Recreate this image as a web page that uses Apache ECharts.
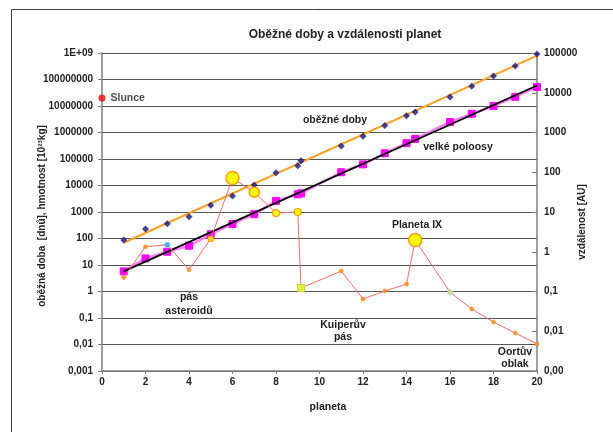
<!DOCTYPE html>
<html>
<head>
<meta charset="utf-8">
<script src="https://cdn.jsdelivr.net/npm/echarts@6/dist/echarts.min.js"></script>
<style>
html,body{margin:0;padding:0;background:#fff;}
#c{width:613px;height:432px;}
</style>
</head>
<body>
<div id="c"></div>
<script>
// ---- data ----
const planetX      = [1, 2, 3, 4, 5, 6, 7, 8, 9, 9.15, 11, 12, 13, 14, 14.4, 16, 17, 18, 19, 20];
const periodDays   = [87, 230, 360, 660, 1800, 4000, 10500, 30000, 56000, 85000, 310000, 720000, 1850000, 4300000, 5900000, 22000000, 56000000, 135000000, 320000000, 910000000];
const semiMajorAU  = [0.32, 0.68, 1.0, 1.42, 2.75, 5.0, 8.8, 19, 28, 29.5, 100, 158, 300, 540, 690, 1840, 2950, 4650, 7900, 14000];
const massE23kg    = [3.4, 49, 58, 6.6, 98, 19000, 5600, 910, 1000, 1.35, 5.9, 0.52, 1.05, 1.9, 87, 0.95, 0.22, 0.07, 0.027, 0.0105];
const periodTrendX = [1, 20];
const periodTrendY = [69, 790000000];
const axisTrendX   = [1, 20];
const axisTrendY   = [0.32, 15200];
const sunX         = [0];
const sunMass      = [20000000];
const xTicks       = [0, 2, 4, 6, 8, 10, 12, 14, 16, 18, 20];
const leftTickLabels  = ['0,001', '0,01', '0,1', '1', '10', '100', '1000', '10000', '100000', '1000000', '10000000', '100000000', '1E+09'];
const rightTickLabels = ['0,00', '0,01', '0,1', '1', '10', '100', '1000', '10000', '100000'];

const FONT = '"Liberation Sans", Arial, sans-serif';
const TXT = '#222';

function pairs(xs, ys) { return xs.map((x, i) => [x, ys[i]]); }

// special mass markers (by planet index)
const big = {symbol: 'circle', symbolSize: 13, itemStyle: {color: '#ffff00', borderColor: '#ff9a00', borderWidth: 1.5}};
const massSpecial = {
  2:  {symbolSize: 5, itemStyle: {color: '#4aa8ff', borderColor: '#4aa8ff'}},
  4:  {symbol: 'rect', symbolSize: 5, itemStyle: {color: '#ffd400', borderColor: '#ff9a00', borderWidth: 1}},
  5:  big,
  6:  {symbol: 'circle', symbolSize: 10, itemStyle: {color: '#ffff00', borderColor: '#ff9a00', borderWidth: 1.5}},
  7:  {symbolSize: 7, itemStyle: {color: '#ffff00', borderColor: '#ff9a00', borderWidth: 1.2}},
  8:  {symbolSize: 7, itemStyle: {color: '#ffff00', borderColor: '#ff9a00', borderWidth: 1.2}},
  9:  {symbol: 'rect', symbolSize: 7, itemStyle: {color: '#e4ef40', borderColor: '#c8d830', borderWidth: 1}},
  14: big,
  15: {symbolSize: 5, itemStyle: {color: '#c8d898', borderColor: '#b8c880'}}
};
const massData = planetX.map((x, i) => Object.assign({value: [x, massE23kg[i]]}, massSpecial[i] || {}));

function expIdx(v) { return Math.round(Math.log10(v)); }

const chart = echarts.init(document.getElementById('c'), null, {renderer: 'canvas'});
chart.setOption({
  backgroundColor: '#fff',
  animation: false,
  grid: {left: 102, top: 53, width: 435, height: 318, containLabel: false},
  xAxis: {
    type: 'value', min: 0, max: 20, interval: 2,
    axisLine: {show: true, lineStyle: {color: '#808080', width: 1.5}},
    axisTick: {show: true, length: 3, lineStyle: {color: '#808080'}},
    splitLine: {show: false},
    axisLabel: {margin: 6, color: TXT, fontFamily: FONT, fontSize: 10, fontWeight: 'bold',
      formatter: v => (xTicks.indexOf(v) >= 0 ? String(v) : '')}
  },
  yAxis: [{
    type: 'log', logBase: 10, min: 0.001, max: 1e9, interval: 1, splitNumber: 12,
    axisLine: {show: true, lineStyle: {color: '#808080', width: 1.5}},
    axisTick: {show: true, length: 4, lineStyle: {color: '#808080'}},
    splitLine: {show: true, lineStyle: {color: '#555', width: 1}},
    minorTick: {show: false}, minorSplitLine: {show: false},
    axisLabel: {margin: 9, color: TXT, fontFamily: FONT, fontSize: 10, fontWeight: 'bold',
      formatter: v => leftTickLabels[expIdx(v) + 3] || ''}
  }, {
    type: 'log', logBase: 10, min: 0.001, max: 100000, interval: 1, splitNumber: 8,
    position: 'right',
    axisLine: {show: true, lineStyle: {color: '#808080', width: 1.5}},
    axisTick: {show: true, inside: true, length: 5, lineStyle: {color: '#808080'}},
    splitLine: {show: false},
    axisLabel: {margin: 7, color: TXT, fontFamily: FONT, fontSize: 10, fontWeight: 'bold',
      formatter: v => rightTickLabels[expIdx(v) + 3] || ''}
  }],
  series: [
    { // semi-major axes (pink line + magenta squares)
      type: 'line', yAxisIndex: 1, data: pairs(planetX, semiMajorAU),
      symbol: 'rect', symbolSize: 7, showSymbol: true,
      lineStyle: {color: '#ff80ff', width: 2.5},
      itemStyle: {color: '#ff00ff', borderColor: '#ff00ff'}, z: 3
    },
    { // trend of semi-major axes
      type: 'line', yAxisIndex: 1, data: pairs(axisTrendX, axisTrendY),
      symbol: 'none', lineStyle: {color: '#000', width: 1.8}, z: 4
    },
    { // trend of periods
      type: 'line', yAxisIndex: 0, data: pairs(periodTrendX, periodTrendY),
      symbol: 'none', lineStyle: {color: '#ffa020', width: 2}, z: 4
    },
    { // periods
      type: 'scatter', yAxisIndex: 0, data: pairs(planetX, periodDays),
      symbol: 'diamond', symbolSize: 7,
      itemStyle: {color: '#141480'}, z: 5
    },
    { // masses
      type: 'line', yAxisIndex: 0, data: massData,
      symbol: 'circle', symbolSize: 4, showSymbol: true,
      lineStyle: {color: '#ff6a6a', width: 1},
      itemStyle: {color: '#ff9a2a', borderColor: '#ff7a00', borderWidth: 0.5}, z: 6
    },
    { // Sun
      type: 'scatter', yAxisIndex: 0, data: pairs(sunX, sunMass),
      symbol: 'circle', symbolSize: 7, itemStyle: {color: '#ff0000'},
      label: {show: true, position: 'right', distance: 5, formatter: 'Slunce',
        color: TXT, fontFamily: FONT, fontSize: 10.5, fontWeight: 'bold'}, z: 7
    }
  ],
  graphic: [
    {type: 'rect', shape: {x: 11.5, y: 9.5, width: 700, height: 500}, style: {fill: 'none', stroke: '#444', lineWidth: 1}, silent: true, z: -10},
    {type: 'text', x: 345, y: 35, style: {text: 'Oběžné doby a vzdálenosti planet', font: 'bold 12px ' + FONT, fill: TXT, align: 'center', verticalAlign: 'middle'}},
    {type: 'text', x: 328, y: 407, style: {text: 'planeta', font: 'bold 10.5px ' + FONT, fill: TXT, align: 'center', verticalAlign: 'middle'}},
    {type: 'text', x: 42, y: 216, rotation: Math.PI / 2, style: {text: 'oběžná doba  [dnů], hmotnost [10²³kg]', font: 'bold 10px ' + FONT, fill: TXT, align: 'center', verticalAlign: 'middle'}},
    {type: 'text', x: 582, y: 222, rotation: Math.PI / 2, style: {text: 'vzdálenost [AU]', font: 'bold 10px ' + FONT, fill: TXT, align: 'center', verticalAlign: 'middle'}},
    {type: 'text', x: 335, y: 120, style: {text: 'oběžné doby', font: 'bold 10.5px ' + FONT, fill: TXT, align: 'center', verticalAlign: 'middle'}},
    {type: 'text', x: 458, y: 147, style: {text: 'velké poloosy', font: 'bold 10.5px ' + FONT, fill: TXT, align: 'center', verticalAlign: 'middle'}},
    {type: 'text', x: 417, y: 225, style: {text: 'Planeta IX', font: 'bold 10.5px ' + FONT, fill: TXT, align: 'center', verticalAlign: 'middle'}},
    {type: 'text', x: 189, y: 304, style: {text: 'pás\nasteroidů', font: 'bold 10.5px ' + FONT, fill: TXT, align: 'center', verticalAlign: 'middle', lineHeight: 14}},
    {type: 'text', x: 343, y: 331, style: {text: 'Kuiperův\npás', font: 'bold 10.5px ' + FONT, fill: TXT, align: 'center', verticalAlign: 'middle', lineHeight: 12}},
    {type: 'text', x: 515, y: 358, style: {text: 'Oortův\noblak', font: 'bold 10.5px ' + FONT, fill: TXT, align: 'center', verticalAlign: 'middle', lineHeight: 12}}
  ]
});
</script>
</body>
</html>
